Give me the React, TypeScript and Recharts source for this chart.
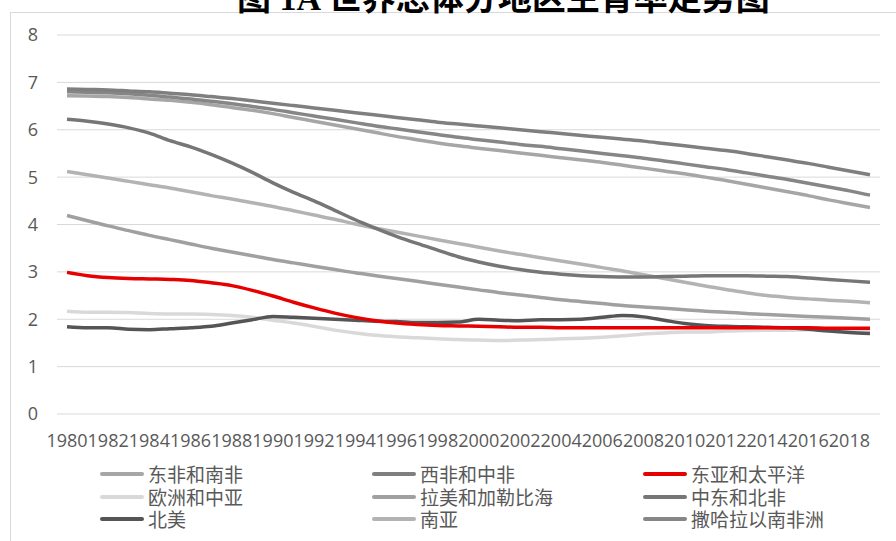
import { CartesianGrid, Line, LineChart, XAxis, YAxis } from "recharts";

const years = [
  1980, 1981, 1982, 1983, 1984, 1985, 1986, 1987, 1988, 1989,
  1990, 1991, 1992, 1993, 1994, 1995, 1996, 1997, 1998, 1999,
  2000, 2001, 2002, 2003, 2004, 2005, 2006, 2007, 2008, 2009,
  2010, 2011, 2012, 2013, 2014, 2015, 2016, 2017, 2018, 2019,
];

const eastSouthAfrica = [
  6.72, 6.71, 6.7, 6.68, 6.65, 6.62, 6.58, 6.53, 6.47, 6.41,
  6.34, 6.26, 6.18, 6.1, 6.02, 5.94, 5.86, 5.79, 5.72, 5.66,
  5.61, 5.56, 5.51, 5.46, 5.41, 5.36, 5.31, 5.25, 5.19, 5.13,
  5.07, 5.0, 4.93, 4.85, 4.77, 4.69, 4.61, 4.52, 4.44, 4.36,
];
const westCentralAfrica = [
  6.86, 6.85, 6.84, 6.82, 6.8, 6.77, 6.74, 6.7, 6.66, 6.61,
  6.56, 6.51, 6.46, 6.41, 6.36, 6.31, 6.26, 6.21, 6.16, 6.12,
  6.08, 6.04, 6.0, 5.96, 5.92, 5.88, 5.84, 5.8, 5.76, 5.71,
  5.66, 5.61, 5.56, 5.5, 5.43, 5.36, 5.29, 5.21, 5.13, 5.05,
];
const eastAsiaPacific = [
  2.99, 2.92, 2.88, 2.86, 2.85, 2.84, 2.82, 2.77, 2.71, 2.61,
  2.49, 2.36, 2.24, 2.13, 2.04, 1.97, 1.92, 1.89, 1.87, 1.86,
  1.85, 1.84, 1.83, 1.83, 1.82, 1.82, 1.82, 1.82, 1.82, 1.82,
  1.82, 1.82, 1.82, 1.82, 1.82, 1.82, 1.82, 1.81, 1.81, 1.81,
];
const europeCentralAsia = [
  2.17, 2.15, 2.15, 2.14, 2.12, 2.11, 2.11, 2.1, 2.08, 2.04,
  1.98, 1.92, 1.85, 1.77, 1.71, 1.66, 1.63, 1.61, 1.59, 1.57,
  1.56, 1.55, 1.56, 1.57, 1.59, 1.6, 1.62, 1.65, 1.69, 1.71,
  1.73, 1.73, 1.75, 1.76, 1.77, 1.77, 1.78, 1.77, 1.76, 1.76,
];
const latinAmerica = [
  4.19, 4.08, 3.97, 3.87, 3.77, 3.68, 3.59, 3.5, 3.42, 3.34,
  3.26, 3.19, 3.12, 3.05, 2.98, 2.92, 2.86, 2.8, 2.74, 2.68,
  2.62, 2.56, 2.51, 2.46, 2.41, 2.37, 2.33, 2.29, 2.26, 2.23,
  2.2, 2.17, 2.15, 2.12, 2.1, 2.08, 2.06, 2.04, 2.02, 2.0,
];
const middleEastNorthAfrica = [
  6.22, 6.18, 6.12, 6.04, 5.93, 5.77, 5.64, 5.48, 5.3, 5.1,
  4.88, 4.68, 4.5, 4.3, 4.1, 3.92, 3.75, 3.6, 3.46, 3.32,
  3.21, 3.12, 3.05, 2.99, 2.95, 2.92, 2.9, 2.89, 2.89, 2.9,
  2.91, 2.92, 2.92, 2.92, 2.91, 2.9, 2.87, 2.84, 2.81, 2.78,
];
const northAmerica = [
  1.84, 1.82, 1.82, 1.79, 1.78, 1.8, 1.82, 1.85, 1.92, 1.99,
  2.06, 2.04, 2.02, 2.0, 1.98, 1.96, 1.95, 1.93, 1.93, 1.94,
  2.0, 1.98, 1.97, 1.99, 1.99, 2.0, 2.04, 2.08, 2.05, 1.98,
  1.91, 1.87, 1.85, 1.84, 1.83, 1.82, 1.79, 1.75, 1.72, 1.7,
];
const southAsia = [
  5.12, 5.05, 4.98, 4.91, 4.84, 4.77, 4.69, 4.61, 4.54, 4.46,
  4.38, 4.29, 4.2, 4.11, 4.01, 3.92, 3.84, 3.76, 3.68, 3.6,
  3.52, 3.44, 3.37, 3.3, 3.23, 3.16, 3.09, 3.02, 2.94, 2.86,
  2.78, 2.7, 2.63, 2.56, 2.5, 2.46, 2.43, 2.4, 2.38, 2.35,
];
const subSaharanAfrica = [
  6.8, 6.79, 6.78, 6.76, 6.73, 6.69, 6.65, 6.6, 6.55, 6.49,
  6.43, 6.36, 6.29, 6.22, 6.15, 6.08, 6.02, 5.96, 5.9, 5.84,
  5.79, 5.74, 5.69, 5.65, 5.6, 5.55, 5.5, 5.45, 5.4, 5.34,
  5.28, 5.22, 5.16, 5.09, 5.02, 4.95, 4.87, 4.79, 4.71, 4.62,
];

const yTicks = [0, 1, 2, 3, 4, 5, 6, 7, 8];

// legend order (row by row, three columns)
const series = [
  { key: "esa", name: "东非和南非", color: "#a6a6a6", values: eastSouthAfrica },
  { key: "wca", name: "西非和中非", color: "#7f7f7f", values: westCentralAfrica },
  { key: "eap", name: "东亚和太平洋", color: "#e60000", values: eastAsiaPacific },
  { key: "eca", name: "欧洲和中亚", color: "#d9d9d9", values: europeCentralAsia },
  { key: "lac", name: "拉美和加勒比海", color: "#a0a0a0", values: latinAmerica },
  { key: "mena", name: "中东和北非", color: "#767676", values: middleEastNorthAfrica },
  { key: "na", name: "北美", color: "#555555", values: northAmerica },
  { key: "sa", name: "南亚", color: "#b3b3b3", values: southAsia },
  { key: "ssa", name: "撒哈拉以南非洲", color: "#868686", values: subSaharanAfrica },
];

// red goes on top
const drawOrder = ["eca", "lac", "sa", "esa", "ssa", "wca", "mena", "na", "eap"];

const data = years.map((year, i) => {
  const row: Record<string, number> = { year };
  series.forEach((s) => {
    row[s.key] = s.values[i];
  });
  return row;
});

const tickStyle = { fontFamily: "'Open Sans', sans-serif", fontSize: 18, fill: "#595959" };

export default function App() {
  return (
    <div
      style={{
        position: "absolute",
        left: 0,
        top: 0,
        width: 896,
        height: 541,
        overflow: "hidden",
        background: "#fff",
      }}
    >
      <div
        style={{
          position: "absolute",
          left: 10,
          top: 12,
          width: 1000,
          height: 700,
          borderLeft: "1px solid #d9d9d9",
          borderTop: "1px solid #d9d9d9",
        }}
      />
      <div
        style={{
          position: "absolute",
          left: 237,
          top: -18,
          fontFamily: "'Liberation Serif', 'Noto Sans CJK SC', serif",
          fontWeight: 700,
          fontSize: 34,
          lineHeight: "34px",
          whiteSpace: "nowrap",
          color: "#000",
        }}
      >
        图 1A 世界总体分地区生育率走势图
      </div>
      <div style={{ position: "absolute", left: 0, top: 0 }}>
        <LineChart
          width={896}
          height={470}
          data={data}
          margin={{ top: 35, right: 16, bottom: 0, left: 0 }}
        >
          <CartesianGrid vertical={false} stroke="#d9d9d9" strokeWidth={1} />
          <XAxis
            dataKey="year"
            interval={1}
            tickLine={false}
            axisLine={false}
            tickSize={0}
            tickMargin={20}
            padding={{ left: 10, right: 10 }}
            height={56}
            tick={tickStyle}
          />
          <YAxis
            domain={[0, 8]}
            ticks={yTicks}
            tickLine={false}
            axisLine={false}
            tickSize={0}
            tickMargin={19}
            width={57}
            tick={tickStyle}
          />
          {drawOrder.map((k) => {
            const s = series.find((x) => x.key === k)!;
            return (
              <Line
                key={s.key}
                type="monotone"
                dataKey={s.key}
                name={s.name}
                stroke={s.color}
                strokeWidth={3.5}
                dot={false}
                isAnimationActive={false}
              />
            );
          })}
        </LineChart>
      </div>
      <div
        style={{
          position: "absolute",
          left: 100,
          top: 463,
          display: "grid",
          gridTemplateColumns: "272px 271px 260px",
          rowGap: 0,
          fontFamily: "'Noto Sans CJK SC', sans-serif",
          fontSize: 19,
          lineHeight: "22.5px",
          color: "#595959",
        }}
      >
        {series.map((s) => (
          <div key={s.key} style={{ display: "flex", alignItems: "center", whiteSpace: "nowrap" }}>
            <span
              style={{
                display: "inline-block",
                width: 44,
                height: 4,
                borderRadius: 2,
                background: s.color,
                marginRight: 4,
              }}
            />
            {s.name}
          </div>
        ))}
      </div>
    </div>
  );
}
